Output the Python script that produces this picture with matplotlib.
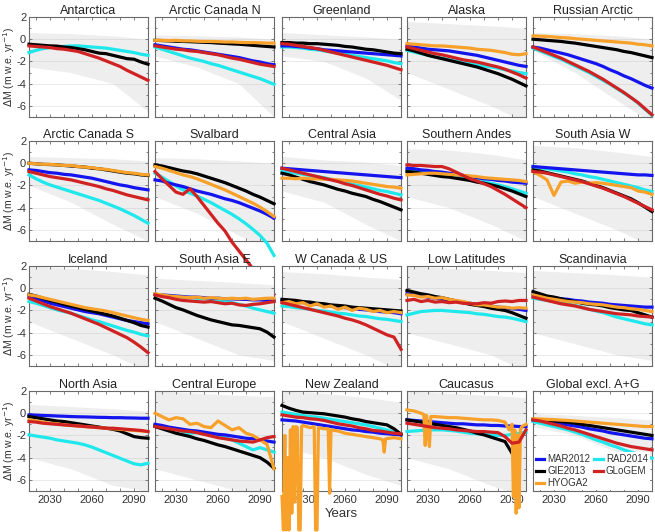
import numpy as np
import matplotlib
matplotlib.use("Agg")
import matplotlib.pyplot as plt

plt.rcParams['font.family'] = ['Liberation Sans', 'DejaVu Sans']

YEARS = list(range(2015, 2101, 5))          # 18 points for mean curves
SPREAD_YEARS = [2015, 2045, 2075, 2100]     # ensemble envelope points

MODELS = ['RAD2014', 'MAR2012', 'GIE2013', 'HYOGA2', 'GLoGEM']
COLORS = {'MAR2012': '#1414ee', 'RAD2014': '#1ee8ec', 'GIE2013': '#000000',
          'GLoGEM': '#d02222', 'HYOGA2': '#f7a12a'}

titles = ['Antarctica', 'Arctic Canada N', 'Greenland', 'Alaska', 'Russian Arctic',
          'Arctic Canada S', 'Svalbard', 'Central Asia', 'Southern Andes', 'South Asia W',
          'Iceland', 'South Asia E', 'W Canada & US', 'Low Latitudes', 'Scandinavia',
          'North Asia', 'Central Europe', 'New Zealand', 'Caucasus', 'Global excl. A+G']

antarctica = dict(
    GIE2013=[-0.45,-0.5,-0.55,-0.6,-0.62,-0.7,-0.75,-0.85,-0.95,-1.1,-1.25,-1.3,-1.45,-1.6,-1.75,-1.8,-2.05,-2.25],
    RAD2014=[-1.2,-1.0,-0.85,-0.75,-0.7,-0.65,-0.6,-0.6,-0.65,-0.7,-0.75,-0.8,-0.9,-1.0,-1.1,-1.2,-1.35,-1.45],
    GLoGEM=[-0.6,-0.65,-0.7,-0.75,-0.85,-0.9,-1.0,-1.1,-1.3,-1.5,-1.7,-1.95,-2.2,-2.45,-2.8,-3.1,-3.4,-3.7],
    lo=[-2.5,-3,-4,-6.5], hi=[0.6,0.5,0.3,0])
arctic_canada_n = dict(
    HYOGA2=[-0.1,-0.1,-0.12,-0.1,-0.15,-0.15,-0.18,-0.2,-0.2,-0.22,-0.25,-0.25,-0.28,-0.3,-0.3,-0.32,-0.35,-0.35],
    GIE2013=[-0.1,-0.12,-0.15,-0.18,-0.2,-0.22,-0.25,-0.28,-0.3,-0.35,-0.38,-0.42,-0.45,-0.5,-0.55,-0.6,-0.65,-0.7],
    MAR2012=[-0.5,-0.6,-0.7,-0.8,-0.9,-0.95,-1.05,-1.15,-1.25,-1.35,-1.45,-1.55,-1.65,-1.8,-1.95,-2.05,-2.2,-2.3],
    GLoGEM=[-0.6,-0.7,-0.8,-0.9,-0.95,-1.05,-1.1,-1.2,-1.3,-1.4,-1.55,-1.7,-1.8,-1.95,-2.1,-2.25,-2.35,-2.45],
    RAD2014=[-0.7,-0.9,-1.1,-1.3,-1.5,-1.7,-1.85,-2.0,-2.2,-2.35,-2.55,-2.75,-2.95,-3.15,-3.35,-3.55,-3.8,-4.05],
    lo=[-1.5,-2.5,-4,-7], hi=[0.4,0.3,0.2,0])
greenland = dict(
    GIE2013=[-0.3,-0.3,-0.35,-0.35,-0.4,-0.4,-0.45,-0.5,-0.55,-0.65,-0.7,-0.8,-0.9,-0.95,-1.05,-1.15,-1.25,-1.3],
    MAR2012=[-0.6,-0.6,-0.65,-0.7,-0.8,-0.85,-0.95,-1.0,-1.05,-1.1,-1.15,-1.2,-1.25,-1.3,-1.35,-1.4,-1.45,-1.5],
    RAD2014=[-0.7,-0.7,-0.75,-0.8,-0.9,-0.95,-1.05,-1.15,-1.25,-1.35,-1.45,-1.55,-1.65,-1.75,-1.85,-1.95,-2.1,-2.2],
    GLoGEM=[-0.4,-0.45,-0.55,-0.65,-0.75,-0.85,-1.0,-1.15,-1.3,-1.45,-1.6,-1.75,-1.9,-2.05,-2.2,-2.35,-2.55,-2.75],
    lo=[-1.5,-2,-3.5,-5.5], hi=[0.6,0.4,0.2,0])
alaska = dict(
    HYOGA2=[-0.4,-0.45,-0.5,-0.55,-0.6,-0.6,-0.65,-0.7,-0.75,-0.8,-0.9,-0.95,-1.0,-1.1,-1.2,-1.35,-1.4,-1.3],
    MAR2012=[-0.6,-0.7,-0.8,-0.9,-0.95,-1.0,-1.05,-1.15,-1.25,-1.35,-1.45,-1.6,-1.75,-1.9,-2.05,-2.2,-2.35,-2.45],
    GLoGEM=[-0.7,-0.85,-1.0,-1.15,-1.3,-1.4,-1.55,-1.7,-1.85,-1.95,-2.05,-2.2,-2.35,-2.5,-2.7,-2.95,-3.2,-3.5],
    RAD2014=[-1.0,-1.15,-1.3,-1.45,-1.6,-1.7,-1.85,-1.95,-2.05,-2.15,-2.3,-2.4,-2.5,-2.6,-2.75,-2.85,-3.0,-3.1],
    GIE2013=[-0.9,-1.05,-1.25,-1.45,-1.6,-1.75,-1.9,-2.05,-2.2,-2.35,-2.5,-2.7,-2.9,-3.1,-3.35,-3.6,-3.9,-4.2],
    lo=[-3,-4.5,-6,-7.5], hi=[1.6,1.4,1.2,1.0])
russian_arctic = dict(
    HYOGA2=[0.3,0.28,0.25,0.2,0.15,0.12,0.05,0.0,-0.05,-0.1,-0.15,-0.2,-0.25,-0.3,-0.35,-0.45,-0.5,-0.6],
    GIE2013=[0.0,-0.05,-0.1,-0.15,-0.2,-0.28,-0.35,-0.45,-0.55,-0.65,-0.75,-0.85,-0.95,-1.1,-1.2,-1.35,-1.5,-1.65],
    MAR2012=[-0.7,-0.8,-0.95,-1.1,-1.25,-1.4,-1.6,-1.8,-2.0,-2.2,-2.45,-2.75,-3.0,-3.3,-3.55,-3.85,-4.15,-4.4],
    RAD2014=[-0.8,-1.05,-1.3,-1.55,-1.8,-2.1,-2.4,-2.7,-3.0,-3.35,-3.7,-4.05,-4.45,-4.85,-5.25,-5.75,-6.3,-6.85],
    GLoGEM=[-0.7,-0.95,-1.2,-1.45,-1.7,-2.0,-2.3,-2.6,-2.9,-3.25,-3.6,-4.0,-4.4,-4.8,-5.25,-5.7,-6.25,-6.8],
    lo=[-1,-3,-5.5,-7.5], hi=[0.6,0.5,0.3,0.0])
arctic_canada_s = dict(
    HYOGA2=[0.0,-0.05,-0.1,-0.1,-0.15,-0.2,-0.2,-0.3,-0.35,-0.4,-0.5,-0.55,-0.65,-0.75,-0.85,-0.9,-1.0,-1.05],
    GIE2013=[0.0,-0.05,-0.1,-0.12,-0.15,-0.2,-0.25,-0.3,-0.35,-0.45,-0.5,-0.6,-0.7,-0.8,-0.9,-0.95,-1.05,-1.1],
    MAR2012=[-0.6,-0.65,-0.75,-0.85,-0.9,-1.0,-1.05,-1.15,-1.25,-1.35,-1.5,-1.65,-1.8,-1.95,-2.05,-2.2,-2.3,-2.4],
    GLoGEM=[-0.75,-0.9,-1.05,-1.2,-1.3,-1.4,-1.5,-1.65,-1.8,-1.95,-2.1,-2.3,-2.45,-2.65,-2.85,-3.0,-3.15,-3.3],
    RAD2014=[-1.05,-1.4,-1.7,-1.95,-2.15,-2.35,-2.55,-2.75,-2.95,-3.15,-3.35,-3.6,-3.85,-4.1,-4.4,-4.7,-5.05,-5.4],
    lo=[-2,-3.5,-5.5,-7], hi=[0.6,0.5,0.4,0.2])
svalbard = dict(
    GIE2013=[-0.15,-0.25,-0.4,-0.55,-0.7,-0.8,-0.95,-1.15,-1.35,-1.55,-1.75,-2.0,-2.25,-2.5,-2.8,-3.05,-3.35,-3.65],
    HYOGA2=[-0.3,-0.45,-0.65,-0.85,-1.05,-1.2,-1.4,-1.65,-1.9,-2.15,-2.4,-2.7,-3.0,-3.3,-3.6,-3.95,-4.35,-4.8],
    MAR2012=[-1.5,-1.6,-1.8,-1.95,-2.1,-2.3,-2.5,-2.65,-2.8,-3.0,-3.2,-3.35,-3.55,-3.8,-4.05,-4.3,-4.6,-4.95],
    RAD2014=[-0.9,-1.25,-1.65,-2.05,-2.4,-2.7,-2.95,-3.25,-3.55,-3.9,-4.25,-4.6,-5.0,-5.45,-5.95,-6.5,-7.2,-8.3],
    GLoGEM=[-0.75,-1.4,-2.0,-2.6,-2.8,-2.3,-3.0,-3.8,-4.6,-5.4,-6.1,-7.1,-7.9,-8.7,-9.5,-10.3,-11.0,-11.8],
    lo=[-3,-4.5,-6.5,-8], hi=[0.5,0.4,0.2,0])
central_asia = dict(
    MAR2012=[-0.45,-0.5,-0.55,-0.6,-0.65,-0.7,-0.75,-0.8,-0.85,-0.9,-0.95,-1.0,-1.05,-1.1,-1.15,-1.2,-1.25,-1.3],
    HYOGA2=[-1.35,-1.35,-1.4,-1.35,-1.4,-1.4,-1.45,-1.45,-1.5,-1.55,-1.6,-1.7,-1.8,-1.9,-2.0,-2.1,-2.15,-2.25],
    RAD2014=[-0.75,-0.8,-0.9,-1.0,-1.1,-1.2,-1.3,-1.45,-1.6,-1.75,-1.9,-2.0,-2.15,-2.3,-2.45,-2.55,-2.7,-2.85],
    GLoGEM=[-0.45,-0.6,-0.75,-0.9,-1.05,-1.2,-1.35,-1.5,-1.65,-1.85,-2.0,-2.2,-2.4,-2.6,-2.8,-2.95,-3.15,-3.3],
    GIE2013=[-0.9,-1.05,-1.25,-1.45,-1.65,-1.8,-1.95,-2.15,-2.35,-2.5,-2.7,-2.85,-3.0,-3.25,-3.45,-3.7,-3.95,-4.2],
    lo=[-2.5,-3.5,-5.5,-7], hi=[0.6,0.3,0.1,-0.2])
southern_andes = dict(
    MAR2012=[-0.45,-0.5,-0.6,-0.65,-0.75,-0.8,-0.9,-1.0,-1.1,-1.2,-1.3,-1.4,-1.45,-1.55,-1.6,-1.7,-1.75,-1.8],
    HYOGA2=[-1.05,-1.0,-0.95,-0.9,-0.9,-0.95,-1.0,-1.05,-1.1,-1.15,-1.2,-1.3,-1.35,-1.4,-1.45,-1.5,-1.55,-1.65],
    GIE2013=[-0.75,-0.8,-0.9,-1.0,-1.1,-1.2,-1.25,-1.35,-1.45,-1.55,-1.7,-1.8,-1.95,-2.1,-2.3,-2.5,-2.75,-3.0],
    RAD2014=[-0.6,-0.7,-0.8,-0.9,-0.95,-1.05,-1.15,-1.25,-1.35,-1.45,-1.55,-1.65,-1.8,-1.95,-2.1,-2.3,-2.5,-2.7],
    GLoGEM=[-0.15,-0.2,-0.2,-0.25,-0.3,-0.3,-0.5,-0.8,-1.1,-1.4,-1.6,-1.85,-2.1,-2.45,-2.8,-3.2,-3.6,-4.0],
    lo=[-3,-4,-5.5,-7], hi=[1.3,1.2,0.8,0.3])
south_asia_w = dict(
    MAR2012=[-0.3,-0.35,-0.4,-0.45,-0.5,-0.55,-0.6,-0.65,-0.7,-0.75,-0.8,-0.85,-0.9,-0.95,-1.0,-1.05,-1.05,-1.1],
    RAD2014=[-0.3,-0.4,-0.5,-0.6,-0.7,-0.8,-0.95,-1.05,-1.2,-1.3,-1.45,-1.6,-1.75,-1.9,-2.05,-2.2,-2.4,-2.55],
    HYOGA2=[-0.75,-1.1,-1.5,-2.9,-1.7,-1.6,-1.8,-1.7,-1.8,-1.75,-1.8,-1.9,-2.0,-2.1,-2.2,-2.5,-2.6,-2.8],
    GIE2013=[-0.6,-0.7,-0.85,-1.0,-1.15,-1.3,-1.45,-1.6,-1.8,-2.0,-2.2,-2.45,-2.7,-2.95,-3.2,-3.55,-3.95,-4.35],
    GLoGEM=[-0.75,-0.8,-0.9,-1.05,-1.2,-1.35,-1.5,-1.65,-1.85,-2.05,-2.25,-2.5,-2.75,-3.0,-3.3,-3.6,-3.9,-4.2],
    lo=[-3,-4.5,-6,-7.5], hi=[1.6,1.4,1.0,0.6])
iceland = dict(
    HYOGA2=[-0.6,-0.7,-0.85,-1.0,-1.15,-1.3,-1.45,-1.6,-1.75,-1.85,-1.95,-2.05,-2.2,-2.35,-2.5,-2.65,-2.8,-2.9],
    GIE2013=[-0.55,-0.7,-0.9,-1.1,-1.25,-1.45,-1.6,-1.75,-1.9,-2.05,-2.2,-2.35,-2.5,-2.7,-2.9,-3.1,-3.35,-3.5],
    MAR2012=[-0.75,-0.95,-1.15,-1.35,-1.5,-1.65,-1.8,-1.95,-2.1,-2.2,-2.3,-2.45,-2.6,-2.75,-2.9,-3.0,-3.1,-3.2],
    RAD2014=[-1.2,-1.35,-1.55,-1.75,-1.95,-2.1,-2.25,-2.45,-2.65,-2.85,-3.0,-3.2,-3.4,-3.6,-3.8,-3.95,-4.15,-4.3],
    GLoGEM=[-0.9,-1.15,-1.4,-1.65,-1.85,-2.05,-2.25,-2.5,-2.75,-3.0,-3.25,-3.55,-3.85,-4.15,-4.45,-4.85,-5.3,-5.8],
    lo=[-3,-4.5,-6,-7.5], hi=[2,1.8,1.5,1.2])
south_asia_e = dict(
    HYOGA2=[-0.5,-0.6,-0.7,-0.75,-0.8,-0.85,-0.8,-0.9,-0.85,-0.9,-0.95,-0.9,-0.95,-0.9,-1.0,-0.95,-0.9,-0.9],
    MAR2012=[-0.55,-0.6,-0.65,-0.7,-0.75,-0.8,-0.8,-0.85,-0.9,-0.9,-0.95,-0.95,-1.0,-1.0,-1.05,-1.05,-1.1,-1.1],
    RAD2014=[-0.6,-0.65,-0.7,-0.75,-0.8,-0.85,-0.9,-0.95,-1.0,-1.05,-1.15,-1.3,-1.45,-1.6,-1.8,-1.95,-2.1,-2.25],
    GLoGEM=[-0.6,-0.75,-0.85,-1.0,-1.1,-1.15,-1.2,-1.25,-1.2,-1.3,-1.4,-1.35,-1.5,-1.55,-1.45,-1.4,-1.3,-1.2],
    GIE2013=[-0.9,-1.15,-1.45,-1.75,-1.95,-2.2,-2.45,-2.65,-2.85,-3.0,-3.15,-3.3,-3.35,-3.45,-3.55,-3.65,-3.95,-4.4],
    lo=[-3,-4.5,-6,-6.5], hi=[0.9,0.7,0.5,0.3])
w_canada_us = dict(
    GIE2013=[-1.0,-1.05,-1.1,-1.2,-1.25,-1.35,-1.4,-1.5,-1.55,-1.6,-1.7,-1.75,-1.8,-1.85,-1.9,-1.95,-2.0,-2.05],
    MAR2012=[-1.1,-1.15,-1.2,-1.3,-1.35,-1.45,-1.5,-1.6,-1.65,-1.75,-1.8,-1.9,-1.95,-2.0,-2.1,-2.15,-2.2,-2.3],
    HYOGA2=[-1.3,-1.2,-1.4,-1.3,-1.6,-1.4,-1.7,-1.6,-1.9,-1.7,-2.0,-1.8,-1.9,-2.1,-2.0,-2.2,-2.1,-2.2],
    RAD2014=[-1.6,-1.65,-1.75,-1.8,-1.9,-2.0,-2.05,-2.15,-2.25,-2.3,-2.4,-2.5,-2.55,-2.65,-2.75,-2.8,-2.9,-3.0],
    GLoGEM=[-1.3,-1.45,-1.6,-1.75,-1.9,-2.05,-2.2,-2.35,-2.5,-2.7,-2.85,-3.05,-3.3,-3.6,-3.9,-4.2,-4.4,-5.5],
    lo=[-3,-4.5,-6,-7.5], hi=[1.5,1.3,1.0,0.8])
low_latitudes = dict(
    MAR2012=[-0.5,-0.6,-0.7,-0.8,-0.9,-1.0,-1.05,-1.15,-1.25,-1.35,-1.45,-1.5,-1.6,-1.7,-1.75,-1.85,-1.9,-2.0],
    RAD2014=[-2.4,-2.25,-2.1,-2.05,-2.0,-2.0,-2.05,-2.1,-2.15,-2.2,-2.3,-2.35,-2.45,-2.55,-2.6,-2.7,-2.85,-3.0],
    GIE2013=[-0.2,-0.35,-0.5,-0.6,-0.75,-0.85,-1.0,-1.15,-1.3,-1.45,-1.55,-1.65,-1.8,-1.9,-2.0,-2.2,-2.45,-2.7],
    HYOGA2=[-0.6,-0.65,-0.8,-0.75,-0.9,-0.85,-1.0,-1.1,-1.2,-1.35,-1.5,-1.5,-1.6,-1.7,-1.7,-1.8,-1.75,-1.8],
    GLoGEM=[-1.1,-1.0,-1.2,-1.1,-1.25,-1.2,-1.3,-1.25,-1.35,-1.4,-1.4,-1.3,-1.35,-1.2,-1.15,-1.2,-1.1,-1.1],
    lo=[-4,-5,-6,-7.5], hi=[2.0,1.8,1.6,1.4])
scandinavia = dict(
    GIE2013=[-0.3,-0.5,-0.7,-0.8,-0.95,-1.1,-1.2,-1.35,-1.45,-1.5,-1.6,-1.75,-1.85,-1.95,-2.0,-2.2,-2.4,-2.6],
    HYOGA2=[-0.6,-0.75,-0.9,-1.0,-1.1,-1.2,-1.25,-1.3,-1.4,-1.45,-1.5,-1.6,-1.7,-1.75,-1.85,-1.9,-2.0,-2.1],
    MAR2012=[-0.6,-0.65,-0.75,-0.85,-0.95,-1.0,-1.1,-1.15,-1.25,-1.3,-1.35,-1.45,-1.5,-1.55,-1.6,-1.65,-1.7,-1.7],
    GLoGEM=[-0.8,-0.95,-1.1,-1.25,-1.4,-1.5,-1.6,-1.75,-1.9,-2.0,-2.1,-2.2,-2.3,-2.35,-2.4,-2.5,-2.55,-2.6],
    RAD2014=[-0.9,-1.0,-1.1,-1.2,-1.3,-1.4,-1.55,-1.7,-1.9,-2.05,-2.2,-2.4,-2.6,-2.75,-2.9,-3.05,-3.2,-3.3],
    lo=[-4,-5,-6,-6.5], hi=[1.6,1.4,1.2,1.0])
north_asia = dict(
    MAR2012=[-0.15,-0.17,-0.2,-0.22,-0.25,-0.27,-0.3,-0.32,-0.33,-0.35,-0.37,-0.38,-0.4,-0.4,-0.42,-0.43,-0.45,-0.45],
    GIE2013=[-0.3,-0.4,-0.5,-0.6,-0.7,-0.75,-0.85,-0.95,-1.05,-1.15,-1.25,-1.35,-1.45,-1.6,-1.85,-2.1,-2.2,-2.25],
    HYOGA2=[-0.6,-0.7,-0.8,-0.9,-0.95,-1.05,-1.1,-1.15,-1.2,-1.25,-1.3,-1.35,-1.4,-1.45,-1.5,-1.55,-1.6,-1.65],
    GLoGEM=[-0.75,-0.8,-0.9,-0.95,-1.0,-1.05,-1.1,-1.15,-1.2,-1.25,-1.3,-1.35,-1.35,-1.4,-1.45,-1.5,-1.55,-1.65],
    RAD2014=[-1.95,-2.05,-2.15,-2.25,-2.4,-2.5,-2.6,-2.7,-2.85,-3.05,-3.3,-3.55,-3.8,-4.05,-4.3,-4.55,-4.65,-4.5],
    lo=[-4,-5,-6.5,-7], hi=[0.8,0.6,0.4,0.2])
central_europe = dict(
    HYOGA2=[0.0,-0.3,-0.6,-0.4,-0.5,-1.0,-0.9,-1.2,-1.3,-0.7,-1.1,-1.5,-1.3,-1.8,-2.0,-2.4,-2.8,-5.0],
    MAR2012=[-1.0,-1.1,-1.25,-1.35,-1.45,-1.55,-1.6,-1.7,-1.8,-1.9,-1.95,-2.05,-2.15,-2.25,-2.3,-2.4,-2.5,-2.6],
    RAD2014=[-1.05,-1.2,-1.35,-1.5,-1.65,-1.8,-1.75,-1.8,-1.85,-2.0,-2.2,-2.4,-2.7,-3.0,-3.3,-3.1,-3.3,-3.5],
    GLoGEM=[-1.2,-1.3,-1.4,-1.5,-1.6,-1.65,-1.75,-1.9,-2.05,-2.2,-2.3,-2.4,-2.5,-2.55,-2.6,-2.4,-2.2,-2.1],
    GIE2013=[-1.2,-1.4,-1.6,-1.8,-1.95,-2.1,-2.3,-2.45,-2.65,-2.85,-3.0,-3.2,-3.4,-3.6,-3.8,-4.0,-4.4,-4.95],
    lo=[-5,-6,-7,-7.5], hi=[2,1.8,1.6,1.5])
nz_hyoga2_years = [2015, 2016, 2017, 2018, 2019, 2020, 2021, 2022, 2023, 2024, 2025, 2026, 2027,
                   2028, 2029, 2030, 2035, 2038, 2039, 2040, 2041, 2045, 2048, 2049, 2050, 2055,
                   2060, 2065, 2070, 2075, 2080, 2085, 2087, 2088, 2089, 2095, 2100]
nz_hyoga2 = [-7.5, -10.5, -2.0, -10.5, -4.0, -10.5, -1.5, -9.0, -1.2, -8.0, -1.2, -1.3, -10.5,
             -10.5, -1.2, -1.1, -1.3, -1.2, -10.5, -10.5, -1.3, -1.4, -1.4, -7.2, -1.5, -1.6,
             -1.8, -1.9, -2.0, -2.1, -2.2, -2.3, -2.4, -3.5, -2.3, -2.2, -2.3]
new_zealand = dict(
    MAR2012=[-0.6,-0.65,-0.7,-0.8,-0.9,-1.0,-1.1,-1.2,-1.3,-1.4,-1.5,-1.55,-1.65,-1.7,-1.8,-1.85,-1.9,-1.95],
    RAD2014=[0.1,0.0,-0.1,-0.2,-0.3,-0.35,-0.45,-0.55,-0.65,-0.75,-0.85,-0.95,-1.05,-1.2,-1.35,-1.5,-1.7,-1.85],
    GIE2013=[0.7,0.45,0.25,0.1,0.05,0.0,-0.05,-0.15,-0.25,-0.35,-0.5,-0.6,-0.75,-0.85,-0.95,-1.05,-1.4,-1.9],
    HYOGA2=(nz_hyoga2_years, nz_hyoga2),
    GLoGEM=[-0.15,-0.25,-0.35,-0.4,-0.5,-0.55,-0.65,-0.8,-0.95,-1.05,-1.15,-1.3,-1.4,-1.55,-1.6,-1.7,-1.8,-1.85],
    lo=[-3,-4,-5.5,-6.5], hi=[2,1.8,1.4,1.0])
cauc_hyoga2_years = [2015, 2020, 2025, 2027, 2028, 2029, 2031, 2032, 2035, 2040, 2045, 2050, 2055,
                     2060, 2065, 2070, 2075, 2080, 2085, 2088, 2090, 2091, 2092, 2093, 2094, 2095,
                     2096, 2097, 2100]
cauc_hyoga2 = [0.3, 0.2, 0.0, -0.1, -2.9, -0.2, -3.0, -0.3, -0.3, -0.35, -0.4, -0.4, -0.45, -0.5,
               -0.55, -0.6, -0.6, -0.65, -0.8, -1.5, -1.0, -7.5, -1.5, -9.0, -2.0, -8.5, -1.5,
               -1.2, -1.0]
caucasus = dict(
    MAR2012=[-0.6,-0.65,-0.7,-0.75,-0.8,-0.85,-0.9,-0.95,-0.95,-1.0,-1.05,-1.05,-1.1,-1.1,-1.15,-1.15,-1.2,-1.2],
    RAD2014=[-1.65,-1.6,-1.55,-1.5,-1.5,-1.5,-1.55,-1.6,-1.7,-1.8,-1.85,-1.9,-1.95,-2.0,-2.0,-1.9,-1.8,-1.7],
    GIE2013=[-0.6,-0.7,-0.8,-0.9,-1.0,-1.1,-1.2,-1.3,-1.45,-1.6,-1.8,-1.95,-2.15,-2.35,-2.55,-3.6,np.nan,np.nan],
    HYOGA2=(cauc_hyoga2_years, cauc_hyoga2),
    GLoGEM=[-0.9,-1.0,-1.1,-1.2,-1.3,-1.35,-1.4,-1.5,-1.55,-1.6,-1.65,-1.65,-1.7,-1.75,-2.1,-2.7,-2.6,-1.5],
    lo=[-4,-5,-6.5,-7.5], hi=[2,1.8,1.6,1.4])
global_excl = dict(
    RAD2014=[-0.75,-0.9,-1.05,-1.2,-1.35,-1.5,-1.7,-1.9,-2.15,-2.4,-2.6,-2.85,-3.05,-3.3,-3.5,-3.7,-3.9,-4.05],
    MAR2012=[-0.6,-0.65,-0.75,-0.85,-0.95,-1.05,-1.15,-1.25,-1.4,-1.5,-1.6,-1.75,-1.85,-1.95,-2.05,-2.15,-2.25,-2.3],
    GIE2013=[-0.55,-0.6,-0.65,-0.7,-0.75,-0.8,-0.9,-1.0,-1.1,-1.2,-1.3,-1.4,-1.5,-1.6,-1.7,-1.8,-1.9,-2.0],
    HYOGA2=[-0.5,-0.52,-0.55,-0.58,-0.62,-0.65,-0.7,-0.75,-0.8,-0.85,-0.9,-0.95,-1.0,-1.05,-1.1,-1.15,-1.2,-1.2],
    GLoGEM=[-0.6,-0.7,-0.85,-1.0,-1.15,-1.35,-1.5,-1.7,-1.9,-2.1,-2.3,-2.5,-2.7,-2.85,-3.0,-3.1,-3.2,-3.3],
    lo=[-1.2,-2,-3.5,-4.5], hi=[0,-0.2,-0.4,-0.6])

regions = [antarctica, arctic_canada_n, greenland, alaska, russian_arctic,
           arctic_canada_s, svalbard, central_asia, southern_andes, south_asia_w,
           iceland, south_asia_e, w_canada_us, low_latitudes, scandinavia,
           north_asia, central_europe, new_zealand, caucasus, global_excl]

# ---- layout (pixels) ----
W, H = 655, 532
col_left = [29, 155, 282, 407, 533]
row_top = [17, 141, 266, 391]
aw, ah = 119, 100

fig = plt.figure(figsize=(W / 100, H / 100), dpi=100)
spine_c = '#6a6a6a'
text_c = '#333333'

axes = []
for i, (title, reg) in enumerate(zip(titles, regions)):
    r, c = divmod(i, 5)
    ax = fig.add_axes([col_left[c] / W, 1 - (row_top[r] + ah) / H, aw / W, ah / H])
    axes.append(ax)
    ax.set_xlim(2015, 2100)
    ax.set_ylim(-7, 2)
    for y in [0, -2, -4, -6]:
        ax.axhline(y, color='#e6e6e6', lw=0.6, zorder=0)
    ax.fill_between(SPREAD_YEARS, reg['lo'], reg['hi'], color='#bcbcbc', alpha=0.25,
                    lw=0, zorder=1)
    for m in MODELS:
        if m not in reg:
            continue
        s = reg[m]
        if isinstance(s, tuple):
            xs, ys = s
        else:
            xs, ys = YEARS, s
        ax.plot(xs, ys, color=COLORS[m], lw=2.3, solid_joinstyle='round',
                clip_on=False, zorder=3, label=m)
    ax.set_title(title, fontsize=9, color='#222222', pad=2.5)
    ax.set_xticks(range(2020, 2101, 10))
    ax.set_yticks([2, 0, -2, -4, -6])
    ax.set_yticks(range(-7, 3), minor=True)
    ax.tick_params(which='both', direction='in', top=True, right=True, length=2.5,
                   width=0.6, color=spine_c, labelsize=8, labelcolor=text_c, pad=3)
    ax.tick_params(axis='y', pad=2)
    ax.tick_params(which='minor', length=1.5)
    if r == 3:
        ax.set_xticklabels(['', '2030', '', '', '2060', '', '', '2090', ''])
    else:
        ax.set_xticklabels([])
    if c == 0:
        ax.set_yticklabels(['2', '0', '-2', '-4', '-6'])
        ax.set_ylabel(r'$\Delta$M (m w.e. yr$^{-1}$)', fontsize=7.5, color=text_c)
        ax.yaxis.set_label_coords(-0.105, 0.5)
    else:
        ax.set_yticklabels([])
    for sp in ax.spines.values():
        sp.set_color(spine_c)
        sp.set_linewidth(0.8)

axes[17].set_xlabel('Years', fontsize=9.5, color=text_c, labelpad=2)

gax = axes[19]
h = {ln.get_label(): ln for ln in gax.get_lines() if ln.get_label() in COLORS}
order = ['MAR2012', 'GIE2013', 'HYOGA2', 'RAD2014', 'GLoGEM']
leg = gax.legend([h[k] for k in order], order, ncol=2, loc='lower left',
                 bbox_to_anchor=(-0.01, -0.01), fontsize=7, frameon=True,
                 handlelength=0.9, handletextpad=0.3, columnspacing=0.4,
                 labelspacing=0.2, borderpad=0.2, borderaxespad=0.2)
leg.get_frame().set_edgecolor('none')
leg.get_frame().set_facecolor('white')
leg.get_frame().set_alpha(1.0)
for t in leg.get_texts():
    t.set_color(text_c)
leg.set_zorder(5)

fig.savefig('out.png', dpi=100)
